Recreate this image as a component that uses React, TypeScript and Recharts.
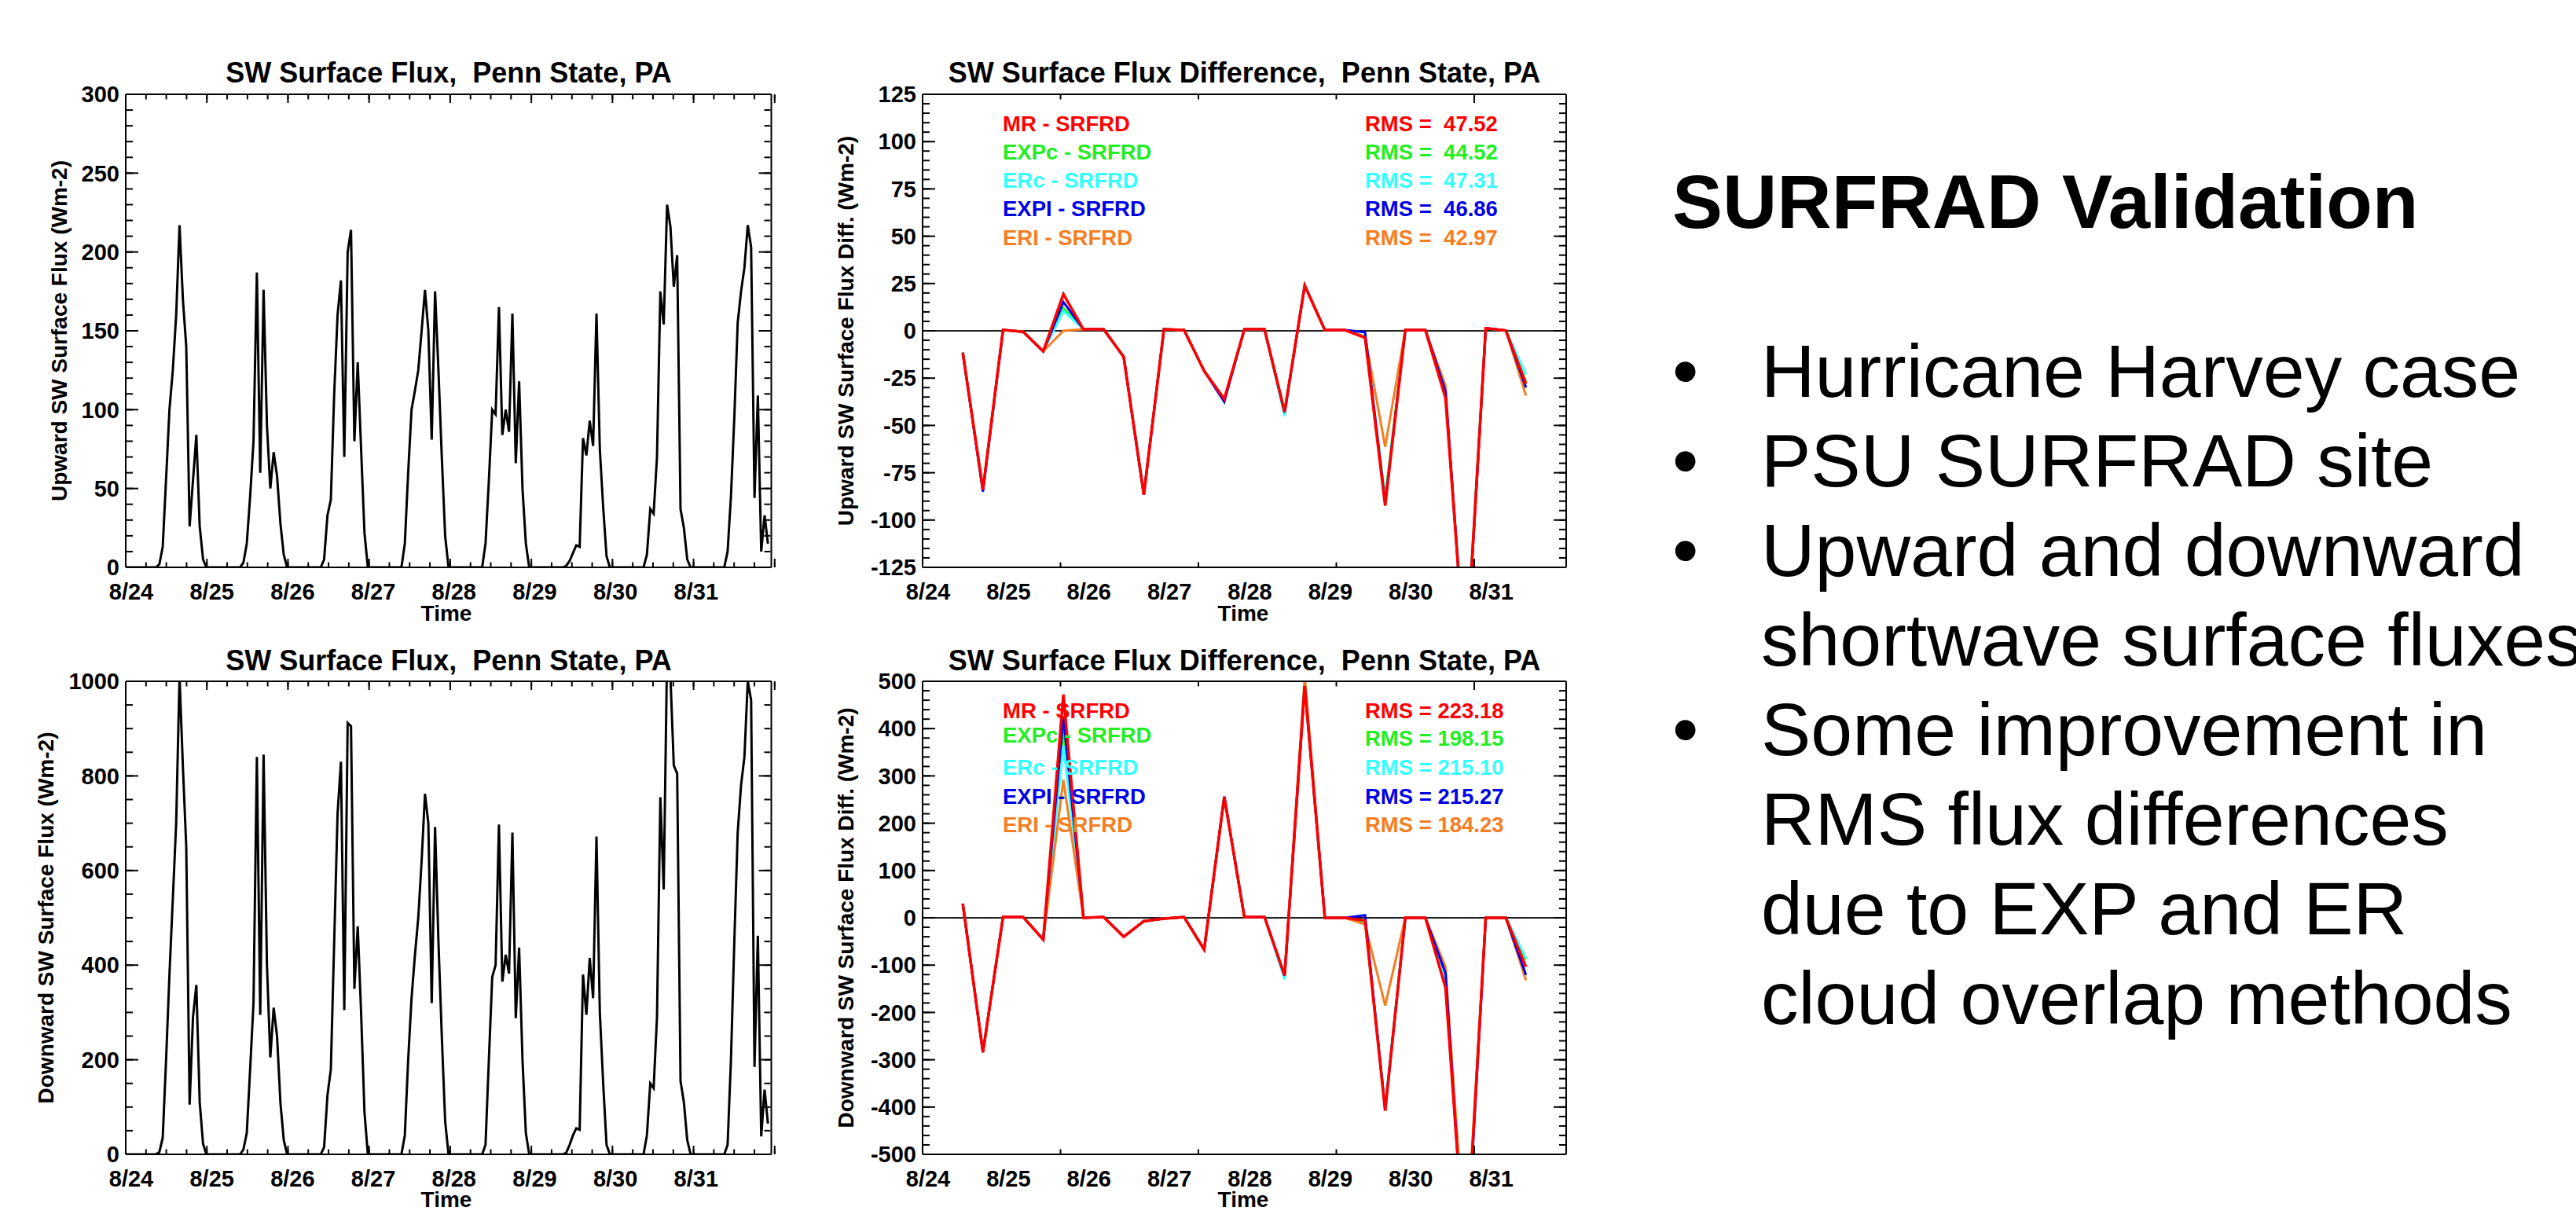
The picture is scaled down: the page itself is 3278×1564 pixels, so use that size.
import React from "react";
import { LineChart, Line, XAxis, YAxis, ReferenceLine } from "recharts";

const FONT = '"Liberation Sans", Arial, Helvetica, sans-serif';
const INK = "#000";

// time axis, hours since 8/24 00 UTC
const dayLabels = ["8/24", "8/25", "8/26", "8/27", "8/28", "8/29", "8/30", "8/31"];
const dayTicks = [0, 24, 48, 72, 96, 120, 144, 168];
const boxDayTicks = [0, 24, 48, 72, 96, 120, 144, 168, 192];

const range = (a: number, b: number, step: number) => {
  const out: number[] = [];
  for (let v = a; v <= b + 1e-9; v += step) out.push(v);
  return out;
};
const sixHourTicks = range(0, 192, 6);

// upward SW surface flux (Wm-2), hourly, one array per day
const upAug24 = [0, 0, 0, 0, 0, 0, 0, 0, 0, 0, 2, 13, 56, 100, 125, 160, 217, 170, 140, 26, 55, 84, 26, 5];
const upAug25 = [0, 0, 0, 0, 0, 0, 0, 0, 0, 0, 0, 3, 15, 45, 80, 187, 60, 176, 90, 50, 73, 58, 28, 8];
const upAug26 = [0, 0, 0, 0, 0, 0, 0, 0, 0, 0, 0, 5, 33, 43, 110, 160, 182, 70, 200, 214, 80, 130, 75, 22];
const upAug27 = [0, 0, 0, 0, 0, 0, 0, 0, 0, 0, 0, 15, 60, 100, 112, 125, 150, 176, 150, 81, 175, 125, 70, 20];
const upAug28 = [0, 0, 0, 0, 0, 0, 0, 0, 0, 0, 0, 15, 55, 100, 97, 165, 84, 100, 86, 161, 66, 118, 50, 15];
const upAug29 = [0, 0, 0, 0, 0, 0, 0, 0, 0, 0, 0, 1, 4, 9, 14, 13, 82, 71, 93, 77, 161, 75, 38, 7];
const upAug30 = [0, 0, 0, 0, 0, 0, 0, 0, 0, 0, 0, 8, 37, 34, 70, 175, 154, 230, 216, 178, 198, 37, 25, 5];
const upAug31 = [0, 0, 0, 0, 0, 0, 0, 0, 0, 0, 0, 10, 45, 95, 155, 175, 190, 217, 203, 44, 109, 10, 33, 15];

// downward SW surface flux (Wm-2), hourly
const downAug24 = [0, 0, 0, 0, 0, 0, 0, 0, 0, 0, 5, 35, 200, 380, 540, 700, 1010, 820, 650, 105, 290, 358, 110, 22];
const downAug25 = [0, 0, 0, 0, 0, 0, 0, 0, 0, 0, 0, 10, 45, 180, 320, 840, 295, 845, 400, 205, 310, 250, 110, 30];
const downAug26 = [0, 0, 0, 0, 0, 0, 0, 0, 0, 0, 0, 15, 125, 180, 450, 720, 830, 305, 912, 905, 350, 482, 300, 90];
const downAug27 = [0, 0, 0, 0, 0, 0, 0, 0, 0, 0, 0, 40, 200, 330, 420, 500, 620, 762, 700, 320, 692, 450, 250, 70];
const downAug28 = [0, 0, 0, 0, 0, 0, 0, 0, 0, 0, 0, 20, 200, 375, 400, 697, 365, 422, 382, 680, 288, 437, 200, 45];
const downAug29 = [0, 0, 0, 0, 0, 0, 0, 0, 0, 0, 0, 3, 20, 40, 55, 52, 380, 295, 415, 330, 672, 300, 150, 20];
const downAug30 = [0, 0, 0, 0, 0, 0, 0, 0, 0, 0, 0, 40, 150, 140, 290, 755, 560, 1060, 1010, 822, 805, 155, 110, 30];
const downAug31 = [0, 0, 0, 0, 0, 0, 0, 0, 0, 0, 0, 20, 200, 450, 680, 780, 840, 1000, 960, 185, 462, 38, 137, 65];

const upDays = [upAug24, upAug25, upAug26, upAug27, upAug28, upAug29, upAug30, upAug31];
const downDays = [downAug24, downAug25, downAug26, downAug27, downAug28, downAug29, downAug30, downAug31];

const fluxRows = upDays.flatMap((day, d) =>
  day.map((up, h) => ({ hour: d * 24 + h, up, down: downDays[d][h] }))
);

// flux differences vs SURFRAD, every 6 h from 8/24 12Z
const diffHours = [12, 18, 24, 30, 36, 42, 48, 54, 60, 66, 72, 78, 84, 90, 96, 102, 108, 114, 120, 126, 132, 138, 144, 150, 156, 162, 168, 174, 180];

const mrUp = [-11.5, -84, 0.5, -0.5, -10.8, 19.4, 0.8, 0.8, -13.8, -86.6, 0.8, 0.4, -21.2, -36, 0.8, 0.8, -42.8, 24, 0.4, 0.4, -3.7, -92.4, 0.4, 0.4, -35.6, -178, 1.4, 0.2, -28];
const expcUp = [-11.5, -84, 0.5, -0.5, -10.8, 12, 0.8, 0.8, -13.8, -86.6, 0.8, 0.4, -21.2, -36.5, 0.8, 0.8, -43.5, 24, 0.4, 0.4, -3, -88, 0.4, 0.4, -34, -176, 1.4, 0.2, -27];
const ercUp = [-11.5, -84, 0.5, -0.5, -10.8, 10.5, 0.8, 0.8, -13.8, -86.6, 0.8, 0.4, -21.2, -36.5, 0.8, 0.8, -45, 24, 0.4, 0.4, -3, -90, 0.4, 0.4, -34, -176, 1.4, 0.2, -23];
const explUp = [-11.5, -85, 0.5, -0.5, -10.8, 15.2, 0.8, 0.8, -13.8, -86.6, 0.8, 0.4, -21.2, -37.5, 0.8, 0.8, -43, 24, 0.4, 0.4, -0.7, -91, 0.4, 0.4, -32, -180, 1.4, 0.2, -30];
const erlUp = [-11.5, -84, 0.5, -0.5, -10.8, 0, 0.8, 0.8, -13.8, -86.6, 0.8, 0.4, -21.2, -36, 0.8, 0.8, -43, 24, 0.4, 0.4, -3, -61.3, 0.4, 0.4, -29, -182, 1.4, 0.2, -34.3];

const mrDown = [30, -284, 1.6, 1.6, -46, 472, 0, 1.6, -40, -7, -1.5, 1.6, -67, 256, 1.6, 1.6, -122, 490, 0, 0, -6, -408, 0, 0, -148, -740, 0, 0, -103.5];
const expcDown = [30, -284, 1.6, 1.6, -46, 395, 0, 1.6, -40, -7, -1.5, 1.6, -67, 256, 1.6, 1.6, -124, 490, 0, 0, -8, -400, 0, 0, -140, -735, 0, 0, -88];
const ercDown = [30, -284, 1.6, 1.6, -46, 365, 0, 1.6, -40, -7, -1.5, 1.6, -67, 256, 1.6, 1.6, -130, 490, 0, 0, -7, -402, 0, 0, -137, -735, 0, 0, -85];
const explDown = [30, -284, 1.6, 1.6, -46, 425, 0, 1.6, -40, -7, -1.5, 1.6, -67, 256, 1.6, 1.6, -122, 490, 0, 0, 5.5, -405, 0, 0, -117, -760, 0, 0, -121];
const erlDown = [30, -284, 1.6, 1.6, -46, 292, 0, 1.6, -40, -7, -1.5, 1.6, -67, 256, 1.6, 1.6, -122, 510, 0, 0, -14, -185.5, 0, 0, -103.5, -720, 0, 0, -132];

const rmsUp = [47.52, 44.52, 47.31, 46.86, 42.97];
const rmsDown = [223.18, 198.15, 215.1, 215.27, 184.23];

const buildDiff = (mr: number[], expc: number[], erc: number[], expl: number[], erl: number[]) =>
  diffHours.map((hour, i) => ({ hour, mr: mr[i], expc: expc[i], erc: erc[i], expl: expl[i], erl: erl[i] }));

const diffUpRows = buildDiff(mrUp, expcUp, ercUp, explUp, erlUp);
const diffDownRows = buildDiff(mrDown, expcDown, ercDown, explDown, erlDown);

// legend order (top to bottom) and colours
const legendKeys = ["mr", "expc", "erc", "expl", "erl"];
const seriesName: Record<string, string> = {
  mr: "MR - SRFRD",
  expc: "EXPc - SRFRD",
  erc: "ERc - SRFRD",
  expl: "EXPI - SRFRD",
  erl: "ERI - SRFRD",
};
const seriesColor: Record<string, string> = {
  mr: "#ff0000",
  expc: "#22ee22",
  erc: "#33ffff",
  expl: "#0000e6",
  erl: "#f57d22",
};
// drawing order: MR last so it sits on top
const drawOrder = ["expc", "erc", "erl", "expl", "mr"];

type Rect = { left: number; top: number; right: number; bottom: number };
type LineSpec = { key: string; color: string; width: number };

const tickStroke = { stroke: INK, strokeWidth: 2 };
const noLabel = () => "";

function Panel(props: {
  plot: Rect;
  data: Record<string, number>[];
  lines: LineSpec[];
  yDomain: [number, number];
  yMajor: number[];
  yMinor: number[];
  zero?: boolean;
}) {
  const { plot, data, lines, yDomain, yMajor, yMinor, zero } = props;
  const yw = 150;
  const pad = 20;
  const xh = 50;
  const w = yw + (plot.right - plot.left) + pad;
  const h = pad + (plot.bottom - plot.top) + xh + 10;
  const xCommon = { type: "number" as const, domain: [0, 192] as [number, number], allowDataOverflow: true, interval: 0 as const, stroke: INK };
  const yCommon = { type: "number" as const, domain: yDomain, allowDataOverflow: true, interval: 0 as const, stroke: INK };
  // inward box ticks: thin mirrored axes that sit on the frame
  const boxX = { ...xCommon, tickFormatter: noLabel, tickLine: tickStroke, tickMargin: 0, height: 1, mirror: true };
  const boxY = { ...yCommon, tickFormatter: noLabel, tickLine: tickStroke, tickMargin: 0, width: 1, mirror: true };
  return (
    <div style={{ position: "absolute", left: plot.left - yw, top: plot.top - pad }}>
      <LineChart
        width={w}
        height={h}
        data={data}
        margin={{ top: pad, right: pad, bottom: 10, left: 0 }}
        style={{ fontFamily: FONT }}
      >
        <XAxis
          xAxisId="t"
          dataKey="hour"
          {...xCommon}
          ticks={dayTicks}
          tickFormatter={(v: number) => dayLabels[dayTicks.indexOf(v)] ?? ""}
          height={xh}
          tickLine={false}
          tickSize={0}
          tickMargin={20}
          axisLine={tickStroke}
          tick={{ fill: INK, fontSize: 29, fontWeight: 700, dx: 7 }}
        />
        <XAxis xAxisId="bMaj" orientation="bottom" {...boxX} ticks={boxDayTicks} tickSize={11} axisLine={false} />
        <XAxis xAxisId="bMin" orientation="bottom" {...boxX} ticks={sixHourTicks} tickSize={5.5} axisLine={false} />
        <XAxis xAxisId="tMaj" orientation="top" {...boxX} ticks={boxDayTicks} tickSize={11} axisLine={tickStroke} />
        <XAxis xAxisId="tMin" orientation="top" {...boxX} ticks={sixHourTicks} tickSize={5.5} axisLine={false} />

        <YAxis
          yAxisId="v"
          {...yCommon}
          ticks={yMajor}
          width={yw}
          tickLine={false}
          tickSize={0}
          tickMargin={8}
          axisLine={tickStroke}
          tick={{ fill: INK, fontSize: 29, fontWeight: 700 }}
        />
        <YAxis yAxisId="lMaj" orientation="left" {...boxY} ticks={yMajor} tickSize={16} axisLine={false} />
        <YAxis yAxisId="lMin" orientation="left" {...boxY} ticks={yMinor} tickSize={8} axisLine={false} />
        <YAxis yAxisId="rMaj" orientation="right" {...boxY} ticks={yMajor} tickSize={16} axisLine={tickStroke} />
        <YAxis yAxisId="rMin" orientation="right" {...boxY} ticks={yMinor} tickSize={8} axisLine={false} />

        {zero && <ReferenceLine xAxisId="t" yAxisId="v" y={0} stroke="#222" strokeWidth={2} />}

        {lines.map((l) => (
          <Line
            key={l.key}
            xAxisId="t"
            yAxisId="v"
            type="linear"
            dataKey={l.key}
            stroke={l.color}
            strokeWidth={l.width}
            dot={false}
            activeDot={false}
            isAnimationActive={false}
          />
        ))}
      </LineChart>
    </div>
  );
}

function Txt(props: { x: number; y: number; text: string; size: number; bold?: boolean; color?: string; rotate?: number; anchor?: "center" | "start"; lh?: number }) {
  const { x, y, text, size, bold = true, color = INK, rotate = 0, anchor = "center", lh = 1 } = props;
  const tx = anchor === "center" ? "-50%" : "0";
  return (
    <div
      style={{
        position: "absolute",
        left: x,
        top: y,
        transform: `translate(${tx}, -50%) rotate(${rotate}deg)`,
        fontSize: size,
        lineHeight: lh,
        fontWeight: bold ? 700 : 400,
        color,
        whiteSpace: "pre",
      }}
    >
      {text}
    </div>
  );
}

const plotTL: Rect = { left: 160, top: 120, right: 981.5, bottom: 722 };
const plotTR: Rect = { left: 1174, top: 120, right: 1993, bottom: 722 };
const plotBL: Rect = { left: 160, top: 867, right: 981.5, bottom: 1469 };
const plotBR: Rect = { left: 1174, top: 867, right: 1993, bottom: 1469 };

const upTicks = [0, 50, 100, 150, 200, 250, 300];
const downTicks = [0, 200, 400, 600, 800, 1000];
const dUpTicks = [-125, -100, -75, -50, -25, 0, 25, 50, 75, 100, 125];
const dDownTicks = [-500, -400, -300, -200, -100, 0, 100, 200, 300, 400, 500];

const diffLines: LineSpec[] = drawOrder.map((k) => ({ key: k, color: seriesColor[k], width: k === "mr" ? 3.5 : 3 }));

const bullets = [
  ["Hurricane Harvey case"],
  ["PSU SURFRAD site"],
  ["Upward and downward", "shortwave surface fluxes"],
  ["Some improvement in", "RMS flux differences", "due to EXP and ER", "cloud overlap methods"],
];

function Legend({ names, rms, nameY, rmsY }: { names: string[]; rms: number[]; nameY: number[]; rmsY: number[] }) {
  return (
    <>
      {names.map((k, i) => (
        <React.Fragment key={k}>
          <Txt x={1276} y={nameY[i]} text={seriesName[k]} size={27.5} color={seriesColor[k]} anchor="start" />
          <Txt x={1737} y={rmsY[i]} text={`RMS = ${rms[i].toFixed(2).padStart(6, " ")}`} size={27.5} color={seriesColor[k]} anchor="start" />
        </React.Fragment>
      ))}
    </>
  );
}

export default function App() {
  const lineH = 114;
  const textTop = 415;
  let row = 0;
  return (
    <div
      style={{
        position: "absolute",
        left: 0,
        top: 0,
        width: 3278,
        height: 1564,
        overflow: "hidden",
        background: "#fff",
        fontFamily: FONT,
        color: INK,
      }}
    >
      <Panel plot={plotTL} data={fluxRows} lines={[{ key: "up", color: INK, width: 3 }]} yDomain={[0, 300]} yMajor={upTicks} yMinor={range(0, 300, 10)} />
      <Panel plot={plotBL} data={fluxRows} lines={[{ key: "down", color: INK, width: 3 }]} yDomain={[0, 1000]} yMajor={downTicks} yMinor={range(0, 1000, 50)} />
      <Panel plot={plotTR} data={diffUpRows} lines={diffLines} yDomain={[-125, 125]} yMajor={dUpTicks} yMinor={range(-125, 125, 5)} zero />
      <Panel plot={plotBR} data={diffDownRows} lines={diffLines} yDomain={[-500, 500]} yMajor={dDownTicks} yMinor={range(-500, 500, 20)} zero />

      {/* titles */}
      <Txt x={571} y={93} text="SW Surface Flux,  Penn State, PA" size={36} />
      <Txt x={1583.5} y={93} text="SW Surface Flux Difference,  Penn State, PA" size={36} />
      <Txt x={571} y={840.5} text="SW Surface Flux,  Penn State, PA" size={36} />
      <Txt x={1583.5} y={840.5} text="SW Surface Flux Difference,  Penn State, PA" size={36} />

      {/* axis titles */}
      <Txt x={76} y={421} text="Upward SW Surface Flux (Wm-2)" size={28} rotate={-90} />
      <Txt x={59} y={1168} text="Downward SW Surface Flux (Wm-2)" size={28} rotate={-90} />
      <Txt x={1076.5} y={421} text="Upward SW Surface Flux Diff. (Wm-2)" size={28} rotate={-90} />
      <Txt x={1076.5} y={1168} text="Downward SW Surface Flux Diff. (Wm-2)" size={28} rotate={-90} />
      <Txt x={568} y={780} text="Time" size={28} lh={0.75} />
      <Txt x={1582} y={780} text="Time" size={28} lh={0.75} />
      <Txt x={568} y={1526} text="Time" size={28} lh={0.75} />
      <Txt x={1582} y={1526} text="Time" size={28} lh={0.75} />

      <Legend names={legendKeys} rms={rmsUp} nameY={[157.5, 194, 230, 266.3, 303]} rmsY={[157.5, 194, 230, 266.3, 303]} />
      <Legend names={legendKeys} rms={rmsDown} nameY={[904.5, 935.8, 976.7, 1014, 1049.8]} rmsY={[904.5, 940, 976.7, 1014, 1049.8]} />

      {/* slide text */}
      <div style={{ position: "absolute", left: 2128, top: 200, fontSize: 96, fontWeight: 700, lineHeight: "114px", whiteSpace: "pre" }}>
        SURFRAD Validation
      </div>
      {bullets.map((item, bi) =>
        item.map((line, li) => {
          const top = textTop + lineH * row++;
          return (
            <React.Fragment key={`${bi}-${li}`}>
              {li === 0 && (
                <div style={{ position: "absolute", left: 2128, top, fontSize: 95, lineHeight: `${lineH}px` }}>•</div>
              )}
              <div style={{ position: "absolute", left: 2241, top, fontSize: 95, lineHeight: `${lineH}px`, whiteSpace: "pre" }}>
                {line}
              </div>
            </React.Fragment>
          );
        })
      )}
    </div>
  );
}
